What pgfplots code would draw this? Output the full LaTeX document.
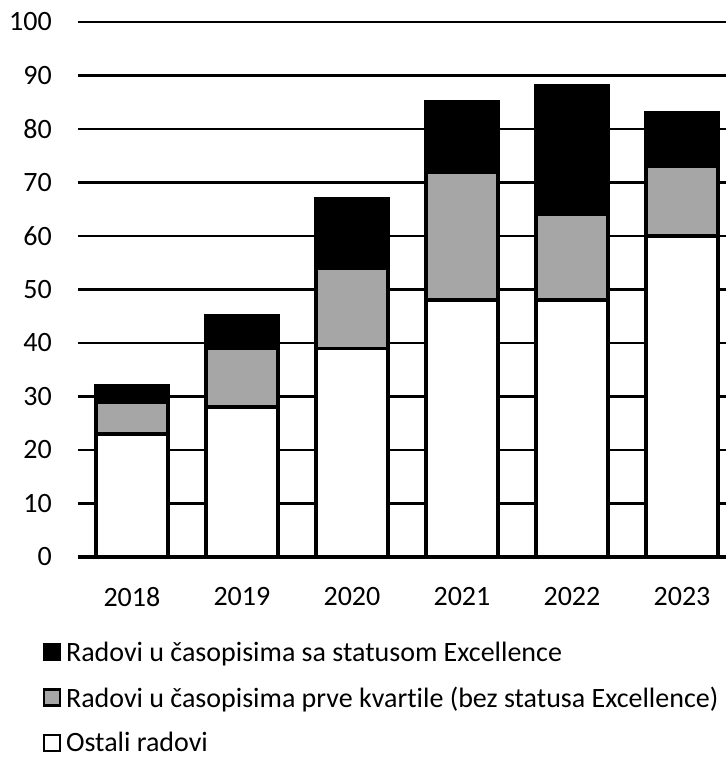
\documentclass[border=0pt]{standalone}
\usepackage{pgfplots}
\pgfplotsset{compat=1.18}
\usepackage{fontspec}
\setmainfont{Carlito}[Ligatures=NoCommon]
\definecolor{q1gray}{RGB}{166,166,166}

\pgfplotstableread{
x ostali prvakv excel
0 23 6 3
1 28 11 6
2 39 15 13
3 48 24 13
4 48 16 24
5 60 13 10
}\papers

\begin{document}
\begin{tikzpicture}[x=1pt,y=1pt]
\begin{axis}[
  at={(0pt,0pt)}, anchor=south west,
  scale only axis, width=648pt, height=535pt,
  ybar stacked, bar width=72pt,
  xmin=-0.49, xmax=5.4, ymin=0, ymax=100,
  xtick=data, xticklabels={2018,2019,2020,2021,2022,2023},
  ytick={0,10,...,100},
  major tick length=0pt,
  axis y line*=left, axis x line*=bottom,
  y axis line style={draw=none},
  x axis line style={line width=3.6pt, -},
  ymajorgrids, grid style={black, line width=2.4pt},
  /pgf/number format/assume math mode=true,
  tick label style={font=\fontsize{28}{32}\selectfont},
  yticklabel style={inner sep=0pt, xshift=-26pt},
  xticklabel style={inner sep=0pt, yshift=-30pt},
  clip=false,
  reverse legend,
  legend cell align=left,
  legend style={at={(axis description cs:-0.055,-0.154)}, anchor=north west,
    draw=none, fill=none, font=\fontsize{28}{32}\selectfont,
    row sep=20pt, inner sep=0pt,
    /tikz/every odd column/.append style={column sep=3pt}},
  every axis plot/.append style={draw=black, line width=3.6pt},
]
\addplot[fill=white, legend image code/.code={\draw[fill=white, line width=2.5pt] (0pt,-8pt) rectangle (16pt,8pt);}] table[x=x, y=ostali] {\papers};
\addplot[fill=q1gray, legend image code/.code={\draw[fill=q1gray, line width=2.5pt] (0pt,-8pt) rectangle (16pt,8pt);}] table[x=x, y=prvakv] {\papers};
\addplot[fill=black, legend image code/.code={\draw[fill=black, line width=2.5pt] (0pt,-8pt) rectangle (16pt,8pt);}] table[x=x, y=excel] {\papers};
\legend{Ostali radovi, Radovi u časopisima prve kvartile (bez statusa Excellence), Radovi u časopisima sa statusom Excellence}
\end{axis}
\pgfresetboundingbox
\useasboundingbox (-78pt,-201pt) rectangle (648pt,557pt);
\end{tikzpicture}
\end{document}
